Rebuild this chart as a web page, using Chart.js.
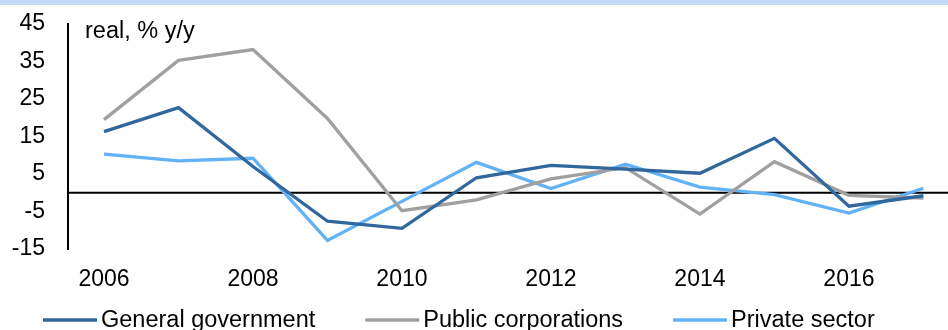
<!DOCTYPE html>
<html>
<head>
<meta charset="utf-8">
<script src="https://cdn.jsdelivr.net/npm/chart.js@4"></script>
<style>
  html, body { margin: 0; padding: 0; background: #ffffff; }
  #wrap { width: 948px; height: 330px; position: relative; }
</style>
</head>
<body>
<div id="wrap"><canvas id="c" width="948" height="330"></canvas></div>
<script>
const years = [2006, 2007, 2008, 2009, 2010, 2011, 2012, 2013, 2014, 2015, 2016, 2017];
const xTickYears = [2006, 2008, 2010, 2012, 2014, 2016];
const yTicks = [-15, -5, 5, 15, 25, 35, 45];
const seriesNames = ['General government', 'Public corporations', 'Private sector'];
const generalGovernment = [16.3, 22.7, 7.0, -7.6, -9.5, 4.0, 7.3, 6.3, 5.2, 14.5, -3.6, -0.8];
const publicCorporations = [19.5, 35.3, 38.2, 19.8, -4.8, -1.9, 3.7, 6.7, -5.7, 8.3, -0.7, -1.4];
const privateSector = [10.3, 8.5, 9.2, -12.7, -2.3, 8.1, 1.1, 7.6, 1.5, -0.5, -5.4, 1.2];
const unitLabel = 'real, % y/y';

const colors = ['#31679c', '#a0a0a0', '#62b2f8'];
const FONT = '"Liberation Sans", Arial, sans-serif';

function pts(arr) { return years.map((y, i) => ({ x: y, y: arr[i] })); }

const extras = {
  id: 'extras',
  beforeDraw(chart) {
    const ctx = chart.ctx;
    ctx.save();
    ctx.fillStyle = '#c6d9f7';
    ctx.fillRect(0, 0, chart.width, 5);
    ctx.restore();
  },
  beforeDatasetsDraw(chart) {
    const ctx = chart.ctx;
    const ys = chart.scales.y;
    const y0 = ys.getPixelForValue(0);
    ctx.save();
    ctx.strokeStyle = '#000000';
    ctx.lineWidth = 2;
    ctx.beginPath();
    ctx.moveTo(chart.chartArea.left, y0);
    ctx.lineTo(chart.width, y0);
    ctx.stroke();
    ctx.restore();
  },
  afterDraw(chart) {
    const ctx = chart.ctx;
    ctx.save();
    ctx.fillStyle = '#000000';
    ctx.font = '23.5px ' + FONT;
    ctx.textBaseline = 'alphabetic';
    ctx.textAlign = 'left';
    ctx.fillText(unitLabel, 85, 38);
    // legend
    let x = 43;
    const ly = 320;
    seriesNames.forEach((name, i) => {
      ctx.strokeStyle = colors[i];
      ctx.lineWidth = 3.5;
      ctx.beginPath();
      ctx.moveTo(x, ly);
      ctx.lineTo(x + 54, ly);
      ctx.stroke();
      ctx.fillStyle = '#000000';
      ctx.fillText(name, x + 58, 327);
      x = x + 58 + ctx.measureText(name).width + 50;
    });
    ctx.restore();
  }
};

const datasets = [generalGovernment, publicCorporations, privateSector].map((arr, i) => ({
  label: seriesNames[i],
  data: pts(arr),
  borderColor: colors[i],
  backgroundColor: colors[i],
  borderWidth: 3.3,
  pointRadius: 0,
  tension: 0,
  fill: false
}));

new Chart(document.getElementById('c'), {
  type: 'line',
  data: { datasets },
  plugins: [extras],
  options: {
    responsive: false,
    animation: false,
    devicePixelRatio: 1,
    layout: { padding: { top: 24, left: 0, right: 0, bottom: 0 } },
    plugins: { legend: { display: false }, tooltip: { enabled: false } },
    scales: {
      x: {
        type: 'linear',
        min: 2005.517,
        max: 2017.33,
        grid: { display: false, drawTicks: false },
        border: { display: false },
        afterBuildTicks(scale) { scale.ticks = xTickYears.map(v => ({ value: v })); },
        afterFit(scale) { scale.height = 81; scale.paddingLeft = 0; scale.paddingRight = 0; },
        ticks: {
          autoSkip: false,
          maxRotation: 0,
          padding: 17,
          color: '#000000',
          font: { family: FONT, size: 23 },
          callback: (v) => String(v)
        }
      },
      y: {
        min: -15,
        max: 45,
        grid: { display: false, drawTicks: false },
        border: { display: true, color: '#000000', width: 2 },
        afterBuildTicks(scale) { scale.ticks = yTicks.map(v => ({ value: v })); },
        afterFit(scale) { scale.width = 68; scale.paddingTop = 0; scale.paddingBottom = 0; },
        ticks: {
          padding: 23,
          color: '#000000',
          font: { family: FONT, size: 23 },
          callback: (v) => String(v)
        }
      }
    }
  }
});
</script>
</body>
</html>
